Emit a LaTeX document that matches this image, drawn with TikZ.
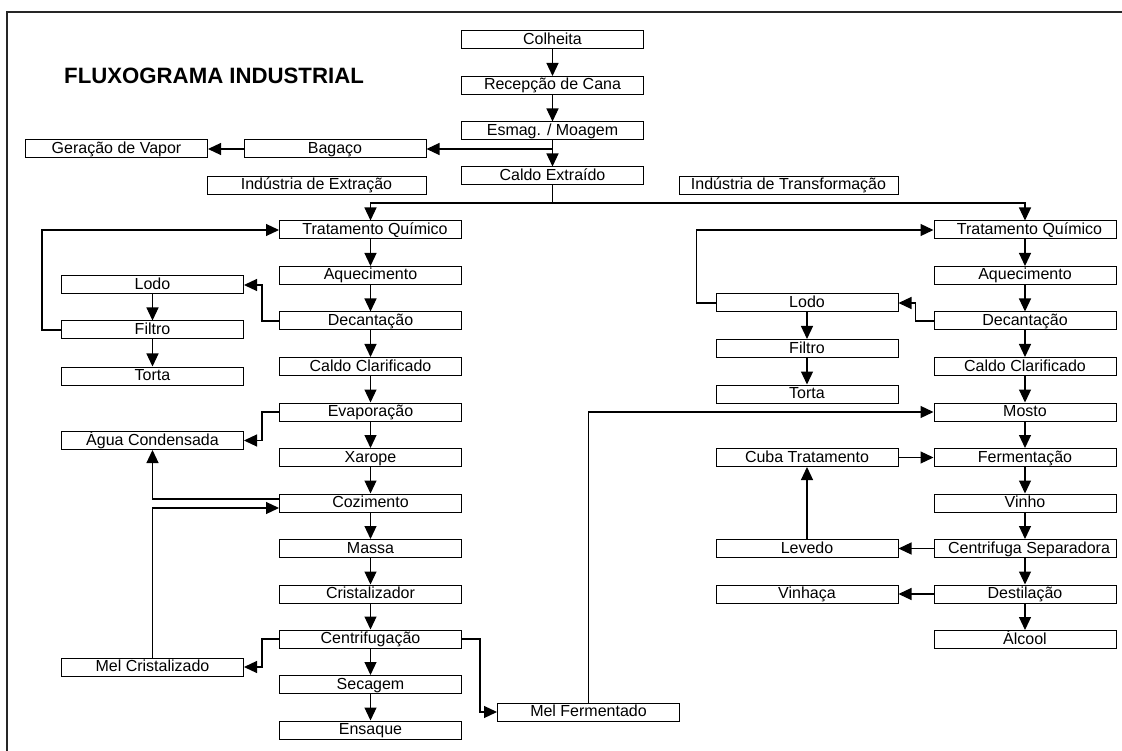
\documentclass[tikz,border=0pt]{standalone}
\usepackage{fontspec}
\setmainfont{Liberation Sans}
\usetikzlibrary{arrows.meta}
\begin{document}
\begin{tikzpicture}[x=1pt,y=-1pt,
  box/.style={draw, line width=1pt, minimum width=182pt, minimum height=18pt,
    inner sep=0pt, text height=12pt, text depth=3pt,
    font=\fontsize{16}{18}\selectfont},
  wide/.style={box, minimum width=219pt},
  flow/.style={line width=1.2pt, -{Triangle[length=13pt,width=12pt]}},
  link/.style={line width=1.2pt},
]
\useasboundingbox (0,0) rectangle (1122,751);
% frame
\draw[line width=1.4pt, black!85] (7,751) -- (7,12) -- (1122,12);
\node[anchor=west, inner sep=0pt, font=\fontsize{22.2}{25}\selectfont\bfseries] (title) at (64,75.5) {FLUXOGRAMA INDUSTRIAL};

% common trunk
\node[box] (colheita) at (552.5,40)  {Colheita};
\node[box] (recepcao) at (552.5,85.5) {Recepção de Cana};
\node[box] (esmag)    at (552.5,131) {Esmag. / Moagem};
\node[box] (caldo)    at (552.5,176) {Caldo Extraído};
\node[box] (bagaco)   at (335,149)   {Bagaço};
\node[box] (vapor)    at (116.5,149) {Geração de Vapor};
\node[wide] (indext)  at (316.5,185.5) {Indústria de Extração};
\node[wide] (indtra)  at (788.5,185.5) {Indústria de Transformação};

% extraction line (sugar)
\node[box] (tqA)      at (370.5,230)   {\hspace*{9pt}Tratamento Químico};
\node[box] (aqA)      at (370.5,275.5) {Aquecimento};
\node[box] (decA)     at (370.5,321)   {Decantação};
\node[box] (ccA)      at (370.5,366.5) {Caldo Clarificado};
\node[box] (evap)     at (370.5,412)   {Evaporação};
\node[box] (xarope)   at (370.5,457.5) {Xarope};
\node[box] (coz)      at (370.5,503)   {Cozimento};
\node[box] (massa)    at (370.5,548.5) {Massa};
\node[box] (crist)    at (370.5,594)   {Cristalizador};
\node[box] (centrif)  at (370.5,639)   {Centrifugação};
\node[box] (secagem)  at (370.5,684.5) {Secagem};
\node[box] (ensaque)  at (370.5,730)   {Ensaque};
\node[box] (lodoA)    at (152.5,285)   {Lodo};
\node[box] (filtroA)  at (152.5,330)   {Filtro};
\node[box] (tortaA)   at (152.5,376)   {Torta};
\node[box] (agua)     at (152.5,440.5) {Água Condensada};
\node[box] (melc)     at (152.5,667)   {Mel Cristalizado};
\node[box] (melf)     at (588.5,712)   {Mel Fermentado};

% transformation line (alcohol)
\node[box] (tqB)      at (1025,230)   {\hspace*{9pt}Tratamento Químico};
\node[box] (aqB)      at (1025,275.5) {Aquecimento};
\node[box] (decB)     at (1025,321)   {Decantação};
\node[box] (ccB)      at (1025,366.5) {Caldo Clarificado};
\node[box] (mosto)    at (1025,412)   {Mosto};
\node[box] (ferm)     at (1025,457.5) {Fermentação};
\node[box] (vinho)    at (1025,503)   {Vinho};
\node[box] (csep)     at (1025,548.5) {\hspace*{8pt}Centrifuga Separadora};
\node[box] (dest)     at (1025,594)   {Destilação};
\node[box] (alcool)   at (1025,639.5) {Álcool};
\node[box] (lodoB)    at (807,303)    {Lodo};
\node[box] (filtroB)  at (807,348.5)  {Filtro};
\node[box] (tortaB)   at (807,394)    {Torta};
\node[box] (cuba)     at (807,457.5)  {Cuba Tratamento};
\node[box] (levedo)   at (807,548.5)  {Levedo};
\node[box] (vinhaca)  at (807,594)    {Vinhaça};

% straight downward flows
\foreach \a/\b in {colheita/recepcao, recepcao/esmag, esmag/caldo,
    tqA/aqA, aqA/decA, decA/ccA, ccA/evap, evap/xarope, xarope/coz,
    coz/massa, massa/crist, crist/centrif, centrif/secagem, secagem/ensaque,
    lodoA/filtroA, filtroA/tortaA,
    tqB/aqB, aqB/decB, decB/ccB, ccB/mosto, mosto/ferm, ferm/vinho,
    vinho/csep, csep/dest, dest/alcool,
    lodoB/filtroB, filtroB/tortaB}
  \draw[flow] (\a) -- (\b);

% bagasse
\draw[flow] (esmag.south |- bagaco.east) -- (bagaco.east);
\draw[flow] (bagaco) -- (vapor);

% split of the extracted juice
\coordinate (split) at (552.5,203);
\draw[link] (caldo) -- (split);
\draw[flow] (split) -| (tqA.north);
\draw[flow] (split) -| (tqB.north);

% side loops, extraction
\draw[flow] (decA.west) -- ++(-17,0) |- (lodoA.east);
\draw[flow] (filtroA.west) -- ++(-19,0) |- (tqA.west);
\draw[flow] (evap.west) -- ++(-17,0) |- (agua.east);
\draw[flow] ([yshift=4pt]coz.west) -| (agua.south);
\draw[flow] (melc.north) |- ([yshift=-5pt]coz.west);
\draw[flow] (centrif.west) -- ++(-17,0) |- (melc.east);
\draw[flow] (centrif.east) -- ++(18,0) |- (melf.west);
\draw[flow] (melf.north) |- (mosto.west);

% side loops, transformation
\draw[flow] (decB.west) -- ++(-18,0) |- (lodoB.east);
\draw[flow] (lodoB.west) -- ++(-19,0) |- (tqB.west);
\draw[flow] (cuba) -- (ferm);
\draw[flow] (csep) -- (levedo);
\draw[flow] (levedo) -- (cuba);
\draw[flow] (dest) -- (vinhaca);
\end{tikzpicture}
\end{document}
